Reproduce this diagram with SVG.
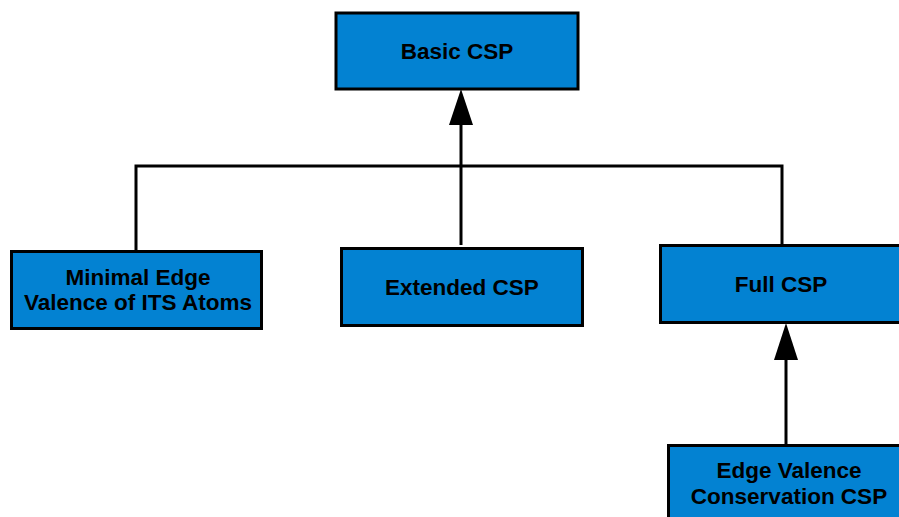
<svg xmlns="http://www.w3.org/2000/svg" width="899" height="517" viewBox="0 0 899 517">
<style>
.box{fill:#0382d2;stroke:#000;stroke-width:3}
.t{font-family:"Liberation Sans",Arial,sans-serif;font-weight:bold;font-size:22.5px;fill:#000;text-anchor:middle}
.ln{fill:none;stroke:#000;stroke-width:3}
.ah{fill:#000;stroke:none}
</style>
<rect width="899" height="517" fill="#fff"/>
<g id="connectors">
<polyline class="ln" points="136,251 136,166 782,166 782,246"/>
<line class="ln" x1="461" y1="245" x2="461" y2="122"/>
<polygon class="ah" points="461,89 449,125 473,125"/>
<line class="ln" x1="786" y1="445" x2="786" y2="358"/>
<polygon class="ah" points="786,323 774,360 798,360"/>
</g>
<g id="basic">
<rect class="box" x="336" y="13" width="242" height="76"/>
<text class="t" x="457" y="59">Basic CSP</text>
</g>
<g id="minimal">
<rect class="box" x="11.5" y="251.5" width="250" height="77"/>
<text class="t" x="138" y="285">Minimal Edge</text>
<text class="t" x="138" y="310">Valence of ITS Atoms</text>
</g>
<g id="extended">
<rect class="box" x="341.5" y="248.5" width="241" height="77"/>
<text class="t" x="462" y="295">Extended CSP</text>
</g>
<g id="full">
<rect class="box" x="660.5" y="245.5" width="243" height="77"/>
<text class="t" x="781" y="292">Full CSP</text>
</g>
<g id="edgevalence">
<rect class="box" x="668.5" y="445.5" width="243" height="80"/>
<text class="t" x="789" y="478">Edge Valence</text>
<text class="t" x="789" y="504">Conservation CSP</text>
</g>
</svg>
